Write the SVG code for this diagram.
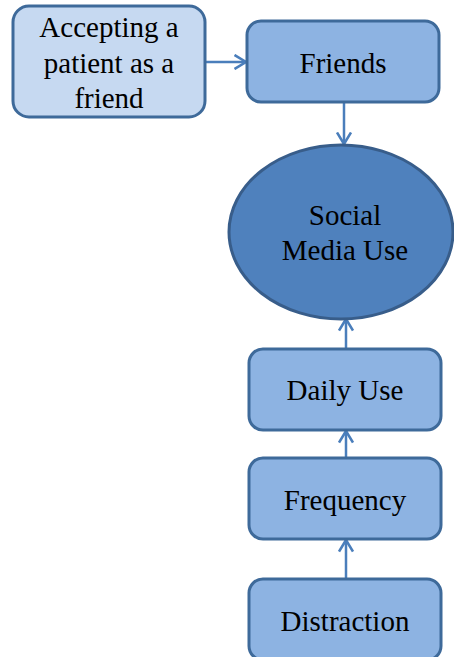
<svg xmlns="http://www.w3.org/2000/svg" width="454" height="657" viewBox="0 0 454 657">
<style>
.box{fill:#8DB3E2;stroke:#3E6A9A;stroke-width:3}
.light{fill:#C6D9F1}
.t{font-family:"Liberation Serif","Times New Roman",serif;font-size:29px;fill:#000;text-anchor:middle}
.c{stroke:#4A7EBB;stroke-width:2.5;fill:none}
</style>
<defs>
<marker id="a" viewBox="0 0 14 16" refX="12.5" refY="8" markerWidth="14" markerHeight="16" markerUnits="userSpaceOnUse" orient="auto">
<path d="M1,1 L12.5,8 L1,15" fill="none" stroke="#4A7EBB" stroke-width="2.6"/>
</marker>
</defs>
<g id="connectors">
<line class="c" x1="205" y1="62" x2="246" y2="62" marker-end="url(#a)"/>
<line class="c" x1="344" y1="102" x2="344" y2="144" marker-end="url(#a)"/>
<line class="c" x1="346" y1="349" x2="346" y2="319" marker-end="url(#a)"/>
<line class="c" x1="346" y1="458" x2="346" y2="431" marker-end="url(#a)"/>
<line class="c" x1="346" y1="579" x2="346" y2="540" marker-end="url(#a)"/>
</g>
<g id="accepting">
<rect class="box light" x="13" y="6" width="192" height="111" rx="16"/>
<text class="t" x="109" y="37">Accepting a</text>
<text class="t" x="109" y="73">patient as a</text>
<text class="t" x="109" y="108">friend</text>
</g>
<g id="friends">
<rect class="box" x="247" y="21" width="192" height="81" rx="14"/>
<text class="t" x="343" y="73">Friends</text>
</g>
<g id="social">
<ellipse cx="341" cy="232" rx="112" ry="87" fill="#4F81BD" stroke="#385D8A" stroke-width="3"/>
<text class="t" x="345" y="225">Social</text>
<text class="t" x="345" y="260">Media Use</text>
</g>
<g id="daily">
<rect class="box" x="249" y="349" width="192" height="81" rx="14"/>
<text class="t" x="345" y="400">Daily Use</text>
</g>
<g id="frequency">
<rect class="box" x="249" y="458" width="192" height="81" rx="14"/>
<text class="t" x="345" y="510">Frequency</text>
</g>
<g id="distraction">
<rect class="box" x="249" y="579" width="192" height="81" rx="14"/>
<text class="t" x="345" y="631">Distraction</text>
</g>
</svg>
